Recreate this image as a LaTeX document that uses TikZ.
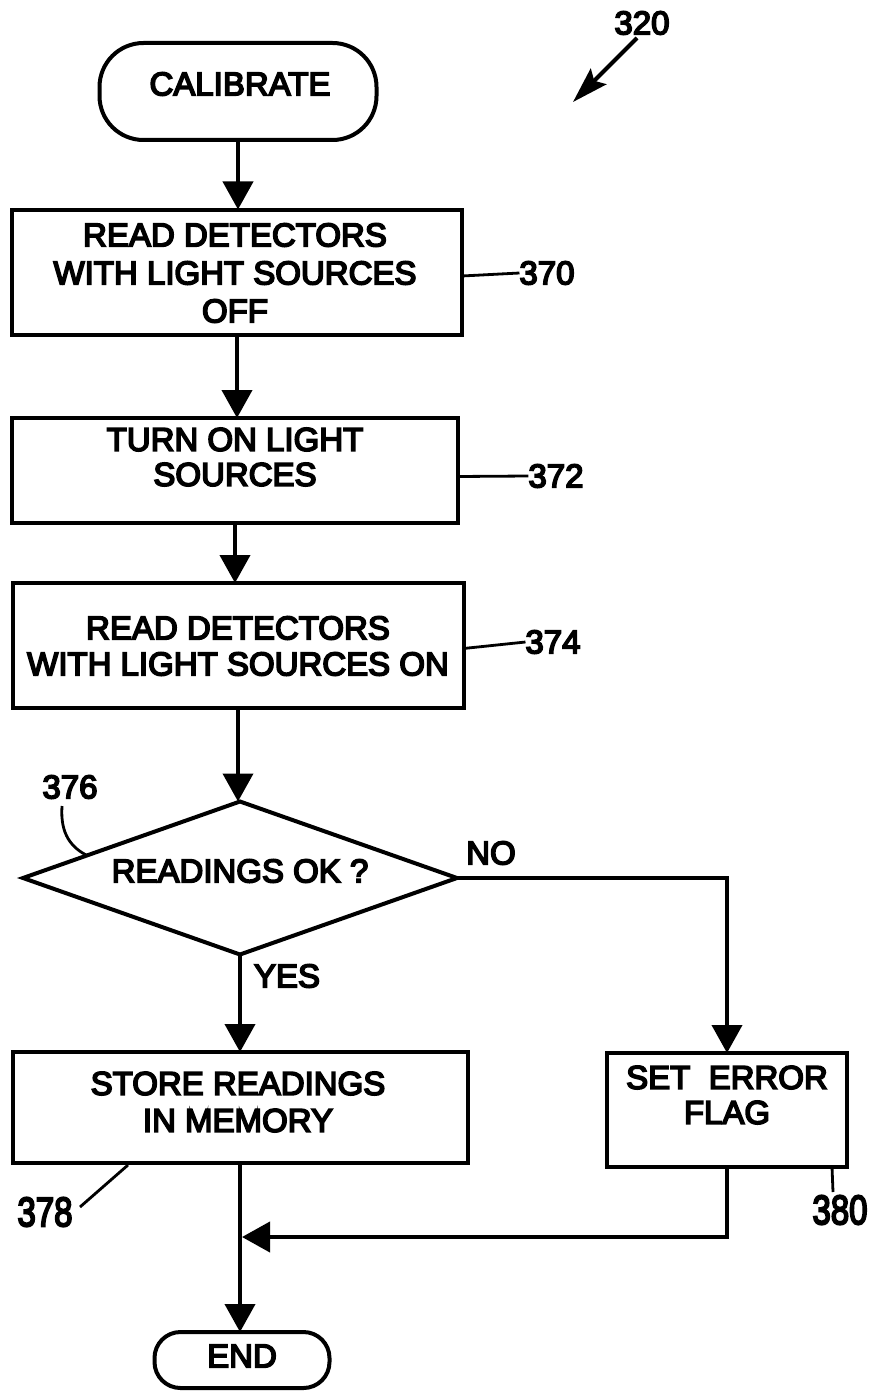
\documentclass[tikz,border=0pt]{standalone}
\usepackage{fontspec}
\setmainfont{Liberation Sans}[BoldFont=Liberation Sans, BoldFeatures={FakeBold=5}]
\usetikzlibrary{arrows.meta,shapes.geometric}
\begin{document}
\begin{tikzpicture}[x=1pt,y=-1pt,
  every node/.style={font=\bfseries\fontsize{33}{36}\selectfont, inner sep=0pt, outer sep=0pt},
  box/.style={draw, line width=4pt, rectangle},
  term/.style={draw, line width=4pt, rectangle},
  conn/.style={line width=4pt, -{Triangle[length=28pt,width=30pt]}},
  leader/.style={line width=2.8pt},
  txt/.style={align=center},
]
\useasboundingbox (0,0) rectangle (869,1391);
% terminals
\node[term, rounded corners=44pt, minimum width=277pt, minimum height=97pt] (cal) at (238,91.5) {};
\node (calt) at (240,84) {CALIBRATE};
\node[term, rounded corners=26pt, minimum width=175pt, minimum height=56pt] (end) at (242,1360) {};
\node (endt) at (242,1356) {END};
% process boxes
\node[box, minimum width=450pt, minimum height=125pt] (b1) at (237,272) {};
\node[txt, font=\bfseries\fontsize{33}{38}\selectfont] (t1) at (235,273) {READ DETECTORS\\WITH LIGHT SOURCES\\OFF};
\node[box, minimum width=446pt, minimum height=105pt] (b2) at (235,470.5) {};
\node[txt, font=\bfseries\fontsize{33}{35}\selectfont] (t2) at (235,457) {TURN ON LIGHT\\SOURCES};
\node[box, minimum width=451pt, minimum height=125pt] (b3) at (238,645.5) {};
\node[txt, font=\bfseries\fontsize{33}{36}\selectfont] (t3) at (238,646) {READ DETECTORS\\WITH LIGHT SOURCES ON};
\node[box, minimum width=455pt, minimum height=111pt] (b4) at (240,1107.5) {};
\node[txt, font=\bfseries\fontsize{33}{37}\selectfont] (t4) at (238,1102) {STORE READINGS\\IN MEMORY};
\node[box, minimum width=240pt, minimum height=114pt] (b5) at (727,1110) {};
\node[txt, font=\bfseries\fontsize{33}{35}\selectfont] (t5) at (727,1095) {SET\ \ ERROR\\FLAG};
% decision
\node[draw, diamond, line width=4pt, minimum width=434pt, minimum height=153pt] (dec) at (240,878) {};
\node (dect) at (240,871) {READINGS OK ?};
% junction
\coordinate (j) at (242,1237);
% connectors
\draw[conn] (cal.south) -- (cal.south |- b1.north);
\draw[conn] (b1.south) -- (b1.south |- b2.north);
\draw[conn] (b2.south) -- (b2.south |- b3.north);
\draw[conn] (b3.south) -- (b3.south |- dec.north);
\draw[conn] (dec.south) -- (dec.south |- b4.north);
\draw[conn] (dec.east) -| (b5.north);
\draw[conn] (b4.south) -- (b4.south |- end.north);
\draw[conn] (b5.south) |- (j);
% labels
\node (l320) at (642,23) {320};
\node (l370) at (547,273) {370};
\node (l372) at (556,476) {372};
\node (l374) at (553,642) {374};
\node (l376) at (70,787) {376};
\node (l378) at (45,1212) {\scalebox{1}[1.25]{378}};
\node (l380) at (840,1210) {\scalebox{1}[1.25]{380}};
\node (lno) at (491,853) {NO};
\node (lyes) at (287,976) {YES};
% leaders
\coordinate (a320) at (573,102);
\draw[line width=4pt, -{Stealth[length=36pt,width=22pt,inset=6pt]}] (637,38) -- (a320);
\draw[leader] (b1.east) ++(0,4) -- (l370.west);
\draw[leader] (b2.east) ++(0,6) -- (l372.west);
\draw[leader] (b3.east) ++(0,3) -- (l374.west);
\draw[leader] (62,806) .. controls (60,835) and (72,848) .. (88,856);
\draw[leader] (128,1165) -- (80,1207);
\draw[leader] (832,1167) -- (833,1192);
\end{tikzpicture}
\end{document}
